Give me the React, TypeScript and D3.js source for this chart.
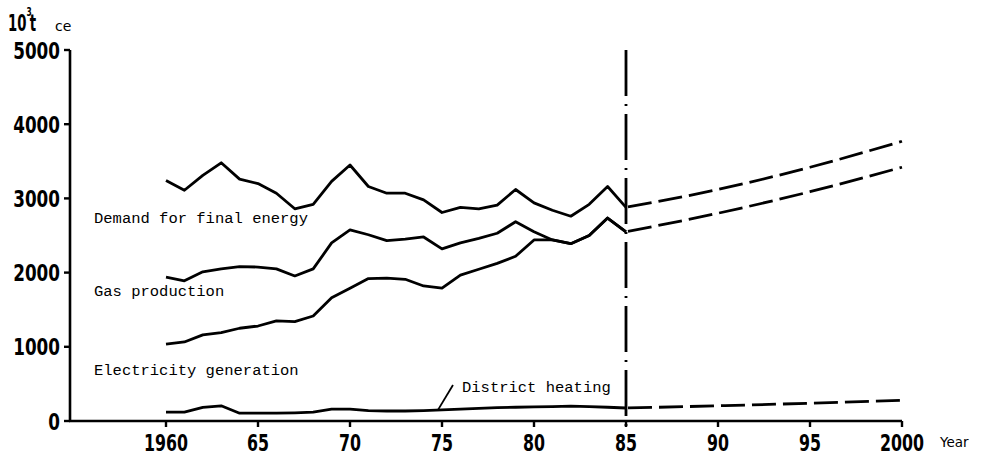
import React from "react";
import * as d3 from "d3";

const years = [1960, 1961, 1962, 1963, 1964, 1965, 1966, 1967, 1968, 1969, 1970, 1971, 1972, 1973, 1974, 1975, 1976, 1977, 1978, 1979, 1980, 1981, 1982, 1983, 1984, 1985];
const demand = [3240, 3110, 3310, 3480, 3260, 3200, 3070, 2860, 2920, 3230, 3450, 3160, 3070, 3070, 2980, 2810, 2880, 2860, 2910, 3120, 2940, 2840, 2760, 2920, 3160, 2880];
const gas = [1940, 1890, 2010, 2050, 2080, 2075, 2050, 1955, 2050, 2400, 2575, 2510, 2430, 2450, 2480, 2320, 2400, 2460, 2530, 2685, 2550, 2440, 2390, 2500, 2735, 2550];
const electricity = [1035, 1065, 1160, 1190, 1250, 1280, 1350, 1340, 1415, 1660, 1790, 1920, 1925, 1910, 1820, 1790, 1965, 2045, 2125, 2220, 2440, 2440, 2390, 2500, 2735, 2550];
const district = [120, 120, 185, 205, 105, 105, 105, 110, 120, 160, 160, 140, 135, 135, 140, 150, 160, 170, 180, 185, 190, 195, 200, 195, 185, 175];

const projYears = [1985, 1990, 1995, 2000];
const demandProj = [2880, 3120, 3420, 3770];
const gasProj = [2550, 2800, 3090, 3420];
const districtProj = [175, 205, 240, 280];

const xTicks = [1960, 1965, 1970, 1975, 1980, 1985, 1990, 1995, 2000];
const xTickLabels = ["1960", "65", "70", "75", "80", "85", "90", "95", "2000"];
const yTicks = [0, 1000, 2000, 3000, 4000, 5000];
const splitYear = 1985;

const W = 986;
const H = 462;
const axisLeft = 70;
const axisBottom = 421;

export default function App() {
  const x = d3.scaleLinear().domain([1960, 2000]).range([166, 902]);
  const y = d3.scaleLinear().domain([0, 5000]).range([421, 50]);

  const lineHist = (vals: number[]) =>
    d3
      .line<number>()
      .x((_, i) => x(years[i]))
      .y((v) => y(v))
      .curve(d3.curveLinear)(vals) || "";
  const lineProj = (vals: number[]) =>
    d3
      .line<number>()
      .x((_, i) => x(projYears[i]))
      .y((v) => y(v))
      .curve(d3.curveMonotoneX)(vals) || "";

  const tickFont = "'DejaVu Sans Condensed', 'DejaVu Sans', sans-serif";
  const monoFont = "'Liberation Mono', 'DejaVu Sans Mono', monospace";
  const dh1975 = x(1975) - 4;

  return (
    <svg
      width={W}
      height={H}
      style={{ position: "absolute", left: 0, top: 0, background: "#fff" }}
    >
      <rect x={0} y={0} width={W} height={H} fill="#fff" />
      {/* axes */}
      <line x1={axisLeft} y1={y(5000)} x2={axisLeft} y2={axisBottom + 1} stroke="#000" strokeWidth={2.6} />
      <line x1={axisLeft - 1} y1={axisBottom} x2={x(2000)} y2={axisBottom} stroke="#000" strokeWidth={2.6} />
      {yTicks.map((t) => (
        <g key={t}>
          <line x1={axisLeft - 6} x2={axisLeft} y1={y(t)} y2={y(t)} stroke="#000" strokeWidth={2.4} />
          <text
            x={60}
            y={y(t) + 8.5}
            textAnchor="end"
            fontFamily={tickFont}
            fontWeight="bold"
            fontSize={23}
            textLength={String(t).length * 11.7}
            lengthAdjust="spacingAndGlyphs"
          >
            {String(t)}
          </text>
        </g>
      ))}
      {xTicks.map((t, i) => (
        <g key={t}>
          <line x1={x(t)} x2={x(t)} y1={axisBottom} y2={axisBottom + 6} stroke="#000" strokeWidth={2.4} />
          <text
            x={x(t)}
            y={451}
            textAnchor="middle"
            fontFamily={tickFont}
            fontWeight="bold"
            fontSize={23}
            textLength={xTickLabels[i].length * 11}
            lengthAdjust="spacingAndGlyphs"
          >
            {xTickLabels[i]}
          </text>
        </g>
      ))}
      <text x={940} y={447} fontFamily="'DejaVu Sans', sans-serif" fontSize={13.5}>
        Year
      </text>
      {/* unit */}
      <text
        transform="translate(8,31) scale(0.64,1)"
        fontFamily={tickFont}
        fontWeight="bold"
        fontSize={23}
      >
        10
        <tspan dy={-15} fontSize={13}>3</tspan>
        <tspan dy={15} dx={-3}>t</tspan>
      </text>
      <text x={55} y={31} fontFamily="'DejaVu Sans', sans-serif" fontSize={14}>
        ce
      </text>

      {/* split line */}
      <line
        x1={x(splitYear)}
        x2={x(splitYear)}
        y1={y(5000)}
        y2={axisBottom + 5}
        stroke="#000"
        strokeWidth={2.8}
        strokeDasharray="46 8 2 8"
      />

      {/* historical lines */}
      {[demand, gas, electricity, district].map((s, i) => (
        <path key={i} d={lineHist(s)} fill="none" stroke="#000" strokeWidth={2.8} strokeLinejoin="round" />
      ))}
      {/* projections */}
      {[demandProj, gasProj, districtProj].map((s, i) => (
        <path
          key={i}
          d={lineProj(s)}
          fill="none"
          stroke="#000"
          strokeWidth={2.8}
          strokeDasharray="24 7"
          strokeDashoffset={-2}
        />
      ))}

      {/* labels */}
      <text x={94} y={223} fontFamily={monoFont} fontSize={15.5}>
        Demand for final energy
      </text>
      <text x={94} y={296} fontFamily={monoFont} fontSize={15.5}>
        Gas production
      </text>
      <text x={94} y={375} fontFamily={monoFont} fontSize={15.5}>
        Electricity generation
      </text>
      <text x={462} y={392} fontFamily={monoFont} fontSize={15.5}>
        District heating
      </text>
      <line x1={dh1975} y1={y(district[15])} x2={453} y2={385} stroke="#000" strokeWidth={1.8} />
    </svg>
  );
}
